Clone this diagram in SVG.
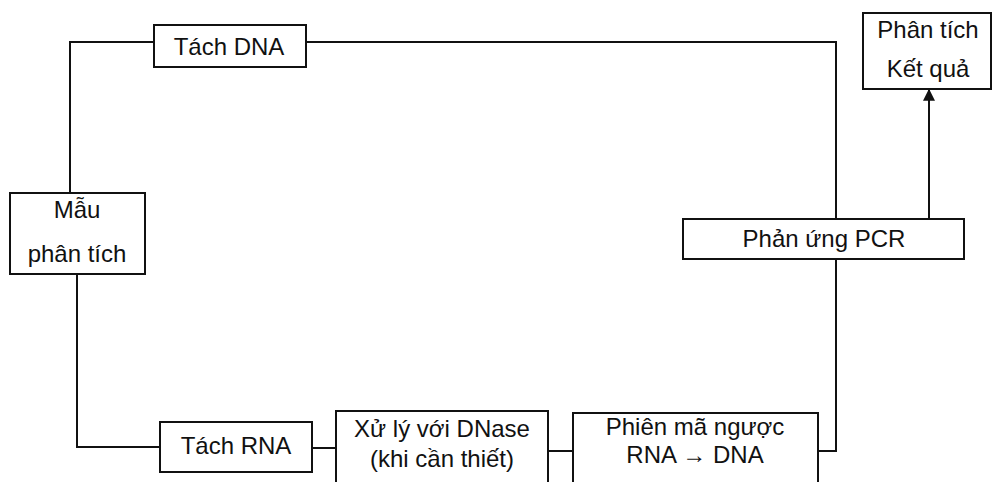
<svg xmlns="http://www.w3.org/2000/svg" width="993" height="482" viewBox="0 0 993 482">
<style>
.box{fill:#fff;stroke:#111;stroke-width:2}
.ln{fill:none;stroke:#111;stroke-width:2}
text{font-family:"Liberation Sans",Arial,sans-serif;font-size:24px;fill:#111;text-anchor:middle}
</style>
<defs>
<marker id="ah" viewBox="0 0 10 10" refX="9" refY="5" markerWidth="6" markerHeight="6" orient="auto" markerUnits="strokeWidth">
<path d="M0,0 L10,5 L0,10 z" fill="#111"/>
</marker>
</defs>
<rect width="993" height="482" fill="#fff"/>
<g id="connectors">
<polyline class="ln" points="70,193 70,42 154,42"/>
<polyline class="ln" points="306,42 836,42 836,219"/>
<polyline class="ln" points="77,274 77,447 160,447"/>
<line class="ln" x1="312" y1="448" x2="336" y2="448"/>
<line class="ln" x1="548" y1="451" x2="573" y2="451"/>
<polyline class="ln" points="818,451 836,451 836,259"/>
<line class="ln" x1="929" y1="219" x2="929" y2="90" marker-end="url(#ah)"/>
</g>
<g id="tach-dna"><rect class="box" x="154" y="25" width="152" height="42"/><text x="229" y="55">Tách DNA</text></g>
<g id="mau"><rect class="box" x="10" y="193" width="135" height="81"/><text x="77" y="218">Mẫu</text><text x="77" y="262">phân tích</text></g>
<g id="phan-tich-ket-qua"><rect class="box" x="863" y="13" width="128" height="76"/><text x="928" y="38">Phân tích</text><text x="928" y="77">Kết quả</text></g>
<g id="pcr"><rect class="box" x="683" y="219" width="281" height="40"/><text x="824" y="247">Phản ứng PCR</text></g>
<g id="tach-rna"><rect class="box" x="160" y="422" width="152" height="50"/><text x="236" y="454">Tách RNA</text></g>
<g id="xu-ly"><rect class="box" x="336" y="411" width="212" height="80"/><text x="442" y="437">Xử lý với DNase</text><text x="442" y="467">(khi cần thiết)</text></g>
<g id="phien-ma"><rect class="box" x="573" y="413" width="245" height="78"/><text x="695" y="435">Phiên mã ngược</text><text x="695" y="463">RNA → DNA</text></g>
</svg>
